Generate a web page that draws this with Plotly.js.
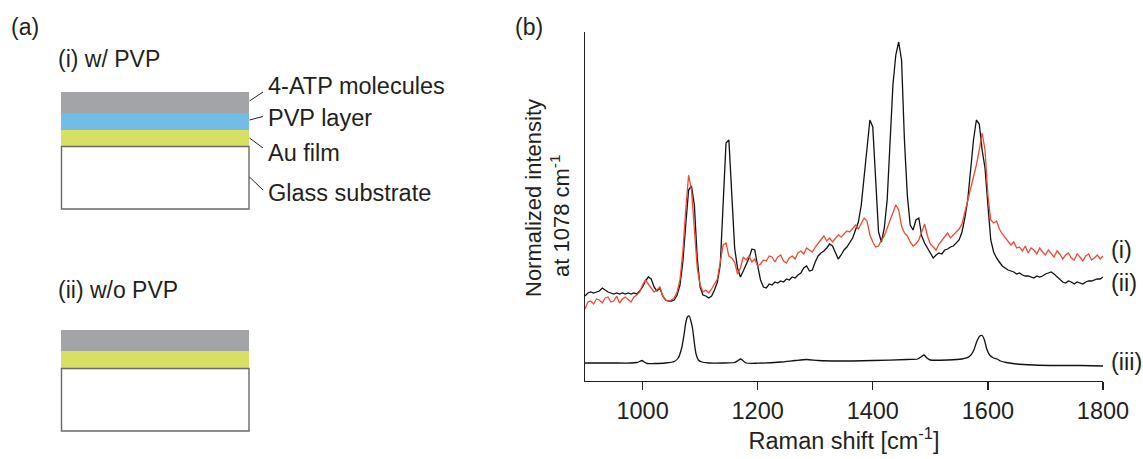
<!DOCTYPE html>
<html>
<head>
<meta charset="utf-8">
<script src="https://cdn.plot.ly/plotly-3.0.1.min.js"></script>
<style>html,body{margin:0;padding:0;background:#fff;}#chart{width:1143px;height:459px;}</style>
</head>
<body>
<div id="chart"></div>
<script>
// ---------- data ----------
// spectra (i) and (ii): uniform grid starting at 900 cm-1, step 5 cm-1 (x0/dx given to Plotly)
const ramanStart = 900;
const ramanStep = 5;
const ramanTicks = [1000, 1200, 1400, 1600, 1800];
const ramanTickLabels = ['1000', '1200', '1400', '1600', '1800'];

// (ii) w/o PVP (black), arbitrary normalized units
const specNoPVP = [
  85,88,89,88,89,90,93,91,89,88,87,88,87,88,87,88,87,88,87,90,
  94,100,104,102,94,90,93,85,81,80,80,81,86,96,119,156,191,195,176,123,
  94,86,85,83,85,91,99,116,176,238,241,186,133,113,104,110,116,123,132,131,
  115,101,94,93,97,96,99,98,100,99,102,101,104,103,106,108,113,115,110,111,
  119,125,128,130,133,137,135,128,122,126,131,134,138,143,151,159,176,203,231,261,
  254,206,149,139,153,181,246,296,326,339,321,241,186,156,151,161,163,145,138,133,
  127,123,126,128,127,131,132,134,135,138,141,149,163,181,211,241,261,257,231,213,
  176,141,129,123,119,115,113,111,110,109,107,108,106,105,105,104,103,105,104,105,
  107,108,109,107,104,102,99,98,100,99,97,99,98,97,99,100,100,101,102,102,
  104
];

// (i) w/ PVP (red), arbitrary normalized units
const specPVP = [
  72,79,80,77,82,81,78,83,84,79,80,85,78,82,84,81,79,84,86,89,
  96,101,97,93,89,91,94,85,81,80,81,83,89,101,129,171,206,191,156,113,
  96,89,91,88,92,97,102,119,136,138,125,123,119,107,113,124,121,125,119,122,
  115,117,121,120,125,124,119,124,126,120,118,123,125,122,128,130,127,133,131,129,
  134,138,141,145,140,143,139,142,146,144,147,150,149,153,156,152,158,163,160,146,
  139,134,135,141,145,153,161,169,176,171,155,148,145,139,135,137,141,149,157,145,
  137,134,131,137,141,145,148,143,146,150,152,157,169,179,193,205,216,231,248,231,
  186,161,158,160,152,147,143,139,136,139,133,134,130,135,128,133,131,127,133,129,
  126,131,128,124,130,127,122,126,128,123,121,127,124,120,125,127,121,123,126,122,
  125
];

// (iii) reference spectrum (smooth), explicit points
const refShift = [900,950,980,990,995,999,1003,1008,1020,1040,1055,1062,1068,1072,1075,1078,1081,1084,1087,1090,
  1093,1097,1103,1115,1140,1160,1166,1170,1174,1180,1200,1240,1265,1285,1305,1340,1400,1460,1478,1484,
  1489,1494,1500,1530,1555,1568,1575,1581,1586,1590,1594,1598,1603,1610,1616,1622,1632,1650,1680,1720,
  1760,1800];
const refInt = [18,18,18,18.5,19.5,20.5,19,17.5,17.5,18,19.5,23,33,46,58,64,65,60,52,38,
  27,21,19,18,18,18.5,20.5,22,20.5,18,17.8,19,20.5,21.5,20.5,20,20.5,21.5,22,24,
  26,23,21,21,22,24.5,30,40,45,45.5,41,32,26,23,22,20,18.5,17,16,15.5,
  15.5,15];

const seriesLabels = ['(i)', '(ii)', '(iii)'];
const layerNames = ['4-ATP molecules', 'PVP layer', 'Au film', 'Glass substrate'];
const sampleTitles = ['(i) w/ PVP', '(ii) w/o PVP'];

// ---------- layout helpers ----------
const W = 1143, H = 459;
const px = x => x / W;
const py = y => 1 - y / H;
const FONT = 'Liberation Sans, Arial, Helvetica, sans-serif';
const TXT = '#231f20';
const FS = 23.5;

const traces = [
  {type:'scatter', mode:'lines', x0: ramanStart, dx: ramanStep, y: specNoPVP,
   line:{color:'#111111', width:1.3}, name:'(ii)', hoverinfo:'skip'},
  {type:'scatter', mode:'lines', x0: ramanStart, dx: ramanStep, y: specPVP,
   line:{color:'#ef4a33', width:1.3}, name:'(i)', hoverinfo:'skip'},
  {type:'scatter', mode:'lines', x: refShift, y: refInt,
   line:{color:'#111111', width:1.3, shape:'spline', smoothing:0.6}, name:'(iii)', hoverinfo:'skip'}
];

const annotations = [];
function addText(text, x, y, xanchor, size, angle){
  annotations.push({text:text, xref:'paper', yref:'paper', x:px(x), y:py(y),
    xanchor:xanchor, yanchor:'middle', showarrow:false, textangle: angle||0,
    font:{family:FONT, size:size||FS, color:TXT}});
}
// panel labels
addText('(a)', 9, 27, 'left', 23);
addText('(b)', 513, 27, 'left', 23);
// panel (a) texts
addText(sampleTitles[0], 56, 59, 'left', 23);
addText(sampleTitles[1], 56, 290, 'left', 23);
addText(layerNames[0], 266, 86, 'left');
addText(layerNames[1], 266, 118, 'left');
addText(layerNames[2], 266, 153, 'left');
addText(layerNames[3], 266, 193, 'left');
// series labels
addText(seriesLabels[0], 1109, 250, 'left');
addText(seriesLabels[1], 1109, 283, 'left');
addText(seriesLabels[2], 1109, 362, 'left');
// y title (two lines)
addText('Normalized intensity', 533, 198, 'center', 22, -90);
addText('at 1078 cm<sup>-1</sup>', 560, 216, 'center', 22, -90);

const shapes = [];
function rect(x0, y0, x1, y1, fill, lineColor, lw){
  shapes.push({type:'rect', xref:'paper', yref:'paper', x0:px(x0), x1:px(x1), y0:py(y1), y1:py(y0),
    fillcolor:fill, line:{color:lineColor||'rgba(0,0,0,0)', width:lw||0}, layer:'above'});
}
function seg(x0, y0, x1, y1){
  shapes.push({type:'line', xref:'paper', yref:'paper', x0:px(x0), x1:px(x1), y0:py(y0), y1:py(y1),
    line:{color:TXT, width:1}, layer:'above'});
}
const GRAY = '#a3a4a8', BLUE = '#72bde6', GREEN = '#d7e063', OUT = '#6d6866';
// (i) w/ PVP stack
rect(61, 92, 249, 113, GRAY);
rect(61, 113, 249, 130, BLUE);
rect(61, 130, 249, 146, GREEN);
rect(61.5, 146.5, 249, 209, '#ffffff', OUT, 1.4);
seg(249.5, 101, 263, 92);
seg(249.5, 120, 263, 116.5);
seg(249.5, 138, 263, 148);
seg(249.5, 177, 263, 190);
// (ii) w/o PVP stack
rect(61, 330, 249, 351, GRAY);
rect(61, 351, 249, 368, GREEN);
rect(61.5, 368.5, 249, 431, '#ffffff', OUT, 1.4);

const layout = {
  width: W, height: H,
  margin:{l:0, r:0, t:0, b:0, pad:0},
  paper_bgcolor:'#ffffff', plot_bgcolor:'rgba(0,0,0,0)',
  showlegend:false,
  font:{family:FONT, size:FS, color:TXT},
  xaxis:{
    domain:[px(585), px(1103)], range:[900, 1800],
    showline:true, linecolor:TXT, linewidth:1.3, mirror:false,
    ticks:'outside', ticklen:8, tickwidth:1.3, tickcolor:TXT,
    tickvals: ramanTicks, ticktext: ramanTickLabels,
    tickfont:{family:FONT, size:FS, color:TXT},
    showgrid:false, zeroline:false, fixedrange:true,
    title:{text:'Raman shift [cm<sup>-1</sup>]', font:{family:FONT, size:FS, color:TXT}, standoff:10},
    automargin:false
  },
  yaxis:{
    domain:[py(381), py(32)], range:[0, 349],
    showline:true, linecolor:TXT, linewidth:1.3,
    ticks:'', showticklabels:false, showgrid:false, zeroline:false, fixedrange:true,
    automargin:false
  },
  annotations: annotations,
  shapes: shapes
};

Plotly.newPlot('chart', traces, layout, {displayModeBar:false, staticPlot:true});
</script>
</body>
</html>
